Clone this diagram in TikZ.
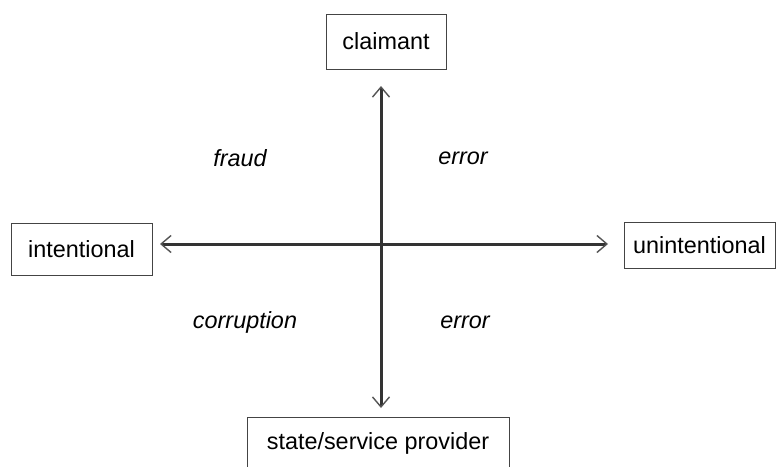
\documentclass[tikz,border=0pt]{standalone}
\usepackage{fontspec}
\setmainfont{Liberation Sans}
\usetikzlibrary{arrows.meta}
\definecolor{axis}{HTML}{333333}
\definecolor{tipc}{HTML}{555555}
\definecolor{boxc}{HTML}{444444}
\tikzset{
  lbl/.style={draw=boxc, line width=1pt, fill=white, inner sep=0pt, font=\fontsize{23.4}{28}\selectfont},
  quad/.style={font=\fontsize{23.4}{28}\selectfont\itshape},
  ax/.style={draw=axis, line width=3pt, {Straight Barb[length=10pt,width=17pt,line width=1.4pt,color=tipc]}-{Straight Barb[length=10pt,width=17pt,line width=1.4pt,color=tipc]}}
}
\begin{document}
\begin{tikzpicture}[x=1pt,y=-1pt]
\useasboundingbox (0,0) rectangle (776,466);
\node[lbl, minimum width=120pt, minimum height=55pt] (cl) at (386,41.5) {claimant};
\node[lbl, minimum width=141pt, minimum height=52pt] (in) at (81.5,249) {intentional};
\node[lbl, minimum width=151pt, minimum height=46pt] (un) at (699.5,245) {unintentional};
\node[lbl, minimum width=262pt, minimum height=53pt] (sp) at (378,443.5) {state/service provider};
\coordinate (t) at (381,86);
\coordinate (b) at (381,408);
\coordinate (l) at (160,244);
\coordinate (r) at (608,244);
\draw[ax] (t) -- (b);
\draw[ax] (l) -- (r);
\node[quad] (fr) at (240,158) {fraud};
\node[quad] (e1) at (463,158) {error};
\node[quad] (co) at (245,322) {corruption};
\node[quad] (e2) at (465,322) {error};
\end{tikzpicture}
\end{document}
